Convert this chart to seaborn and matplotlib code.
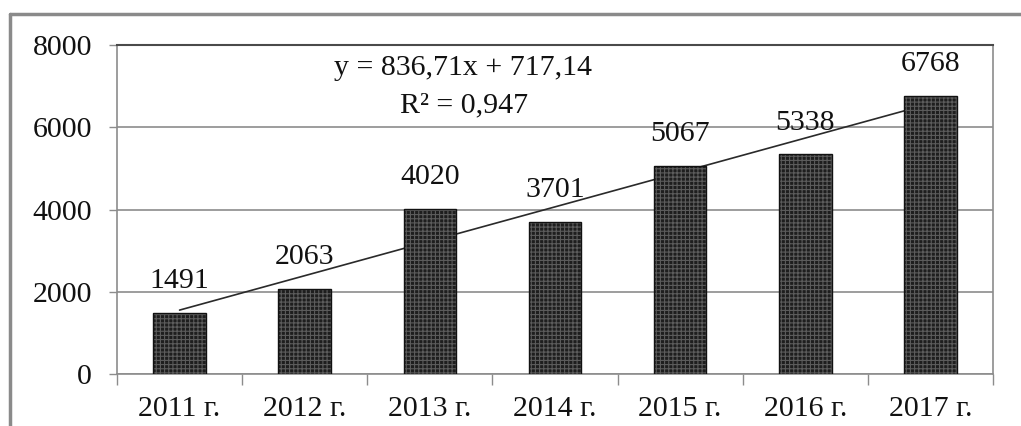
import matplotlib
matplotlib.use("Agg")
import matplotlib.pyplot as plt
import seaborn as sns
import numpy as np
import pandas as pd
from matplotlib.lines import Line2D
from matplotlib.ticker import FixedLocator

years = ["2011 г.", "2012 г.", "2013 г.", "2014 г.", "2015 г.", "2016 г.", "2017 г."]
values = [1491, 2063, 4020, 3701, 5067, 5338, 6768]
yticks = [0, 2000, 4000, 6000, 8000]
eq_text = "y = 836,71x + 717,14"
r2_text = "R² = 0,947"

sns.set_style("white")
plt.rcParams['font.family'] = ['Liberation Serif', 'DejaVu Serif']
plt.rcParams['hatch.linewidth'] = 0.8

FS = 21.5
W, H = 1021, 426
fig = plt.figure(figsize=(W / 100, H / 100), dpi=100)
ax = fig.add_axes([117 / W, (H - 374) / H, (993 - 117) / W, (374 - 45) / H])

df = pd.DataFrame({"year": years, "value": values})
sns.barplot(data=df, x="year", y="value", ax=ax, color="#1e1e1e", width=0.42,
            saturation=1, zorder=3)
for p in ax.patches:
    p.set_hatch("++++")
    p.set_edgecolor("#5c5c5c")
    p.set_linewidth(0.0)
    ax.add_patch(plt.Rectangle(p.get_xy(), p.get_width(), p.get_height(),
                               fill=False, edgecolor="#111111", linewidth=1.0, zorder=4))

# linear trendline
xs = np.arange(1, len(values) + 1)
slope, intercept = np.polyfit(xs, values, 1)
ax.plot(xs - 1, slope * xs + intercept, color="#2a2a2a", linewidth=1.2, zorder=2)

for i, v in enumerate(values):
    ax.annotate(f"{v}", (i, v), xytext=(0, 23), textcoords="offset points",
                ha="center", va="center", fontsize=FS, color="#111111")

ax.text(463, H - 68, eq_text, transform=None, fontsize=FS, ha="center", va="center", color="#111111")
ax.text(464, H - 105, r2_text, transform=None, fontsize=FS, ha="center", va="center", color="#111111")

ax.set_ylim(0, 8000)
ax.set_xlim(-0.5, len(values) - 0.5)
ax.set_yticks(yticks)
ax.set_xlabel("")
ax.set_ylabel("")
ax.yaxis.grid(True, color="#8c8c8c", linewidth=1.2, zorder=0)
ax.set_axisbelow(True)

ax.tick_params(axis="y", direction="out", length=6, width=1, color="#8c8c8c",
               pad=12, labelsize=FS, labelcolor="#111111", left=True)
ax.tick_params(axis="x", which="major", length=0, pad=16, labelsize=FS, labelcolor="#111111")
ax.xaxis.set_minor_locator(FixedLocator(np.arange(-0.5, len(values), 1.0)))
ax.tick_params(axis="x", which="minor", direction="out", length=8, width=1,
               color="#8c8c8c", bottom=True)

for s in ["left", "right", "bottom"]:
    ax.spines[s].set_color("#8c8c8c")
    ax.spines[s].set_linewidth(1.2)
    ax.spines[s].set_visible(True)
ax.spines["top"].set_color("#4a4a4a")
ax.spines["top"].set_linewidth(1.5)
ax.spines["top"].set_visible(True)

# outer frame (top and left edges visible)
fig.add_artist(Line2D([10 / W, 10 / W], [0, 1 - 14 / H], transform=fig.transFigure,
                      color="#8a8a8a", linewidth=2.5))
fig.add_artist(Line2D([10 / W, 1], [1 - 14 / H, 1 - 14 / H], transform=fig.transFigure,
                      color="#8a8a8a", linewidth=2.5))

fig.savefig("out.png", dpi=100, facecolor="white")
